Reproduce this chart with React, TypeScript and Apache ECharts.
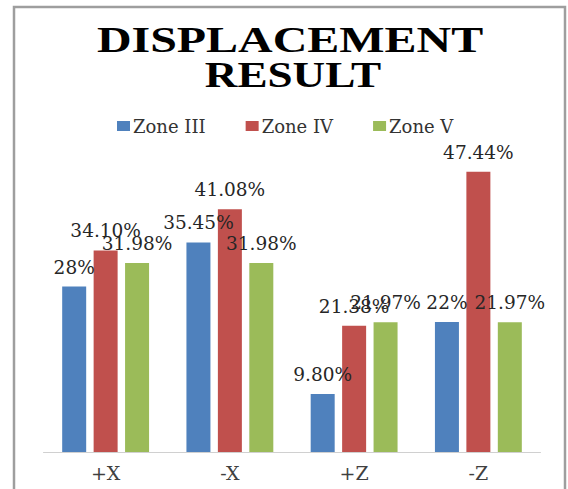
import React, { useEffect, useRef } from "react";
import * as echarts from "echarts";

const categories = ["+X", "-X", "+Z", "-Z"];
const seriesNames = ["Zone III", "Zone IV", "Zone V"];
const zone3 = [28, 35.45, 9.8, 22];
const zone4 = [34.1, 41.08, 21.38, 47.44];
const zone5 = [31.98, 31.98, 21.97, 21.97];
const colors = ["#4F81BD", "#C0504D", "#9BBB59"];
const titleLines = ["DISPLACEMENT", "RESULT"];

const fmt = (v: number) =>
  Number.isInteger(v) ? `${v}%` : `${v.toFixed(2)}%`;

export default function App() {
  const ref = useRef<HTMLDivElement>(null);
  useEffect(() => {
    if (!ref.current) return;
    const chart = echarts.init(ref.current, null, { renderer: "svg" });
    const labelStyle = {
      show: true,
      position: "top" as const,
      distance: 10,
      fontFamily: "DejaVu Serif",
      fontSize: 18.5,
      color: "#262626",
      formatter: (p: any) => fmt(p.value),
    };
    const data = [zone3, zone4, zone5];
    chart.setOption({
      animation: false,
      backgroundColor: "#ffffff",
      graphic: [
        {
          type: "rect",
          shape: { x: 14, y: 7, width: 551, height: 495 },
          style: { fill: "none", stroke: "#9e9e9e", lineWidth: 2.5 },
          silent: true,
        },
        {
          type: "text",
          x: 290,
          y: 40,
          scaleX: 1.37,
          style: {
            text: titleLines[0],
            x: 0,
            y: 0,
            fontFamily: "Liberation Serif",
            fontWeight: "bold",
            fontSize: 35,
            fill: "#000000",
            textAlign: "center",
            textVerticalAlign: "middle",
          },
        },
        {
          type: "text",
          x: 293,
          y: 75,
          scaleX: 1.29,
          style: {
            text: titleLines[1],
            x: 0,
            y: 0,
            fontFamily: "Liberation Serif",
            fontWeight: "bold",
            fontSize: 35,
            fill: "#000000",
            textAlign: "center",
            textVerticalAlign: "middle",
          },
        },
      ],
      legend: {
        data: seriesNames,
        left: 112,
        top: 112,
        itemWidth: 13,
        itemHeight: 10,
        itemGap: 40,
        icon: "rect",
        textStyle: {
          fontFamily: "DejaVu Serif",
          fontSize: 18,
          color: "#333333",
          padding: [0, 0, 0, -2],
        },
      },
      grid: { left: 43.5, right: 27.5, top: 156.5, bottom: 37 },
      xAxis: {
        type: "category",
        data: categories,
        axisLine: { lineStyle: { color: "#d0d0d0", width: 1 } },
        axisTick: { show: false },
        axisLabel: {
          fontFamily: "DejaVu Serif",
          fontSize: 19,
          color: "#404040",
          margin: 11,
        },
      },
      yAxis: {
        type: "value",
        min: 0,
        max: 50,
        show: false,
        splitLine: { show: false },
      },
      series: seriesNames.map((name, i) => ({
        name,
        type: "bar",
        data: data[i],
        barWidth: 24,
        barGap: "31%",
        itemStyle: { color: colors[i] },
        label: labelStyle,
      })),
    });
    return () => chart.dispose();
  }, []);
  return (
    <div
      ref={ref}
      style={{ position: "absolute", left: 0, top: 0, width: 568, height: 489 }}
    />
  );
}
